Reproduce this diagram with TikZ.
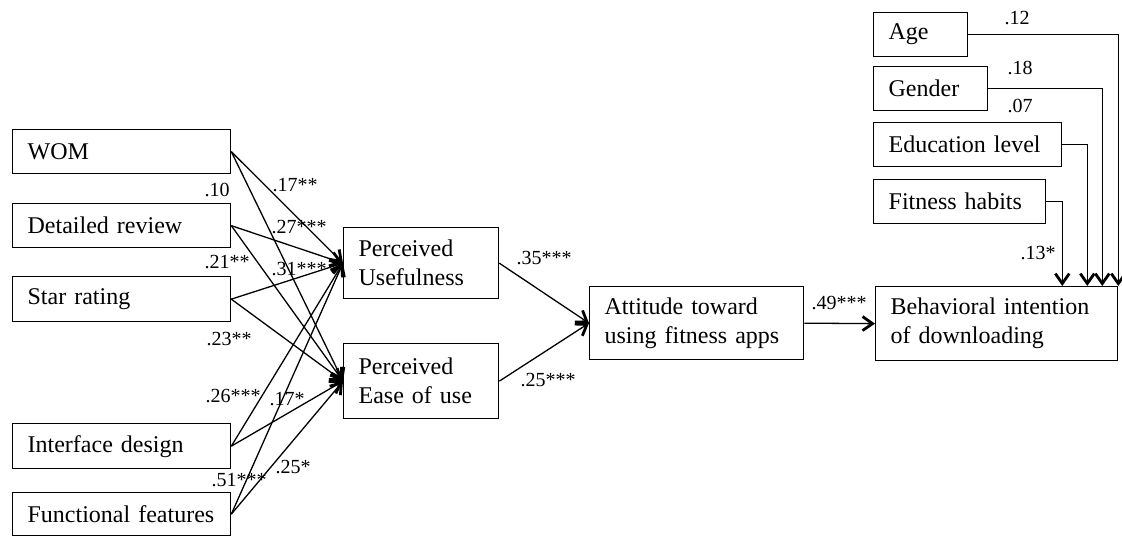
\documentclass[tikz,border=0pt]{standalone}
\usepackage{fontspec}
\setmainfont{Liberation Serif}
\usetikzlibrary{calc,positioning,arrows.meta}

\begin{document}
\begin{tikzpicture}[
  x=1pt, y=-1pt,
  varbox/.style={draw, line width=1.3pt, anchor=north west, inner xsep=15pt, inner ysep=0pt,
    align=left, font=\fontsize{24}{29}\selectfont},
  coef/.style={inner sep=0pt, font=\fontsize{20}{24}\selectfont},
  path_arrow/.style={line width=1.3pt, -{Straight Barb[length=10pt,width=14pt,line width=2.8pt]}},
  ]
  \useasboundingbox (0,0) rectangle (1122,536);

  % antecedents
  \node (wom) [varbox, text width=188pt, minimum height=44pt] at (12,129) {WOM};
  \node (review) [varbox, text width=188pt, minimum height=44pt] at (12,203) {Detailed review};
  \node (star) [varbox, text width=188pt, minimum height=45pt] at (12,276) {Star rating};
  \node (interface) [varbox, text width=188pt, minimum height=45pt] at (12,423) {Interface design};
  \node (features) [varbox, text width=188pt, minimum height=43pt] at (12,492) {Functional features};

  \node (pu) [varbox, text width=125pt, minimum height=71pt] at (343,227) {Perceived\\Usefulness};
  \node (peou) [varbox, text width=125pt, minimum height=75pt] at (343,343) {Perceived\\Ease of use};
  \node (att) [varbox, text width=184pt, minimum height=73pt] at (589,286) {Attitude toward\\using fitness apps};
  \node (bi) [varbox, text width=212pt, minimum height=74pt] at (875,286) {Behavioral intention\\of downloading};

  % control variables
  \node (age) [varbox, text width=64pt, minimum height=44pt] at (873,12) {Age};
  \node (gender) [varbox, text width=84pt, minimum height=44pt] at (873,66) {Gender};
  \node (edu) [varbox, text width=158pt, minimum height=44pt] at (873,122) {Education level};
  \node (habits) [varbox, text width=142pt, minimum height=44pt] at (873,179) {Fitness habits};

  \foreach \n in {wom,review,star,interface,features}
  {
    \draw [path_arrow] (\n.east) -- (pu.west);
    \draw [path_arrow] (\n.east) -- (peou.west);
  }

  \draw [path_arrow] (pu.east) -- (att.west);
  \draw [path_arrow] (peou.east) -- (att.west);
  \draw [path_arrow] (att.east) -- (bi.west);

  \coordinate (bi_in_age) at (bi.north east);
  \coordinate (bi_in_gender) at ($(bi.north east)+(-16,0)$);
  \coordinate (bi_in_edu) at ($(bi.north east)+(-31,0)$);
  \coordinate (bi_in_habits) at ($(bi.north east)+(-56,0)$);
  \draw [path_arrow] (age.east) -| (bi_in_age);
  \draw [path_arrow] (gender.east) -| (bi_in_gender);
  \draw [path_arrow] (edu.east) -| (bi_in_edu);
  \draw [path_arrow] (habits.east) -| (bi_in_habits);

  % coefficients
  \node (c_wom_pu) [coef] at (295,185) {.17**};
  \node (c_wom_peou) [coef] at (217,190) {.10};
  \node (c_review_pu) [coef] at (299,227) {.27***};
  \node (c_review_peou) [coef] at (227,262) {.21**};
  \node (c_star_pu) [coef] at (299,269) {.31***};
  \node (c_star_peou) [coef] at (229,339) {.23**};
  \node (c_interface_pu) [coef] at (233,396) {.26***};
  \node (c_interface_peou) [coef] at (287,399) {.17*};
  \node (c_features_pu) [coef] at (239,480) {.51***};
  \node (c_features_peou) [coef] at (293,467) {.25*};
  \node (c_pu_att) [coef] at (544,258) {.35***};
  \node (c_peou_att) [coef] at (548,380) {.25***};
  \node (c_att_bi) [coef] at (839,303) {.49***};
  \node (c_age) [coef] at (1017,18) {.12};
  \node (c_gender) [coef] at (1020,68) {.18};
  \node (c_edu) [coef] at (1020,106) {.07};
  \node (c_habits) [coef] at (1038,253) {.13*};

\end{tikzpicture}
\end{document}
